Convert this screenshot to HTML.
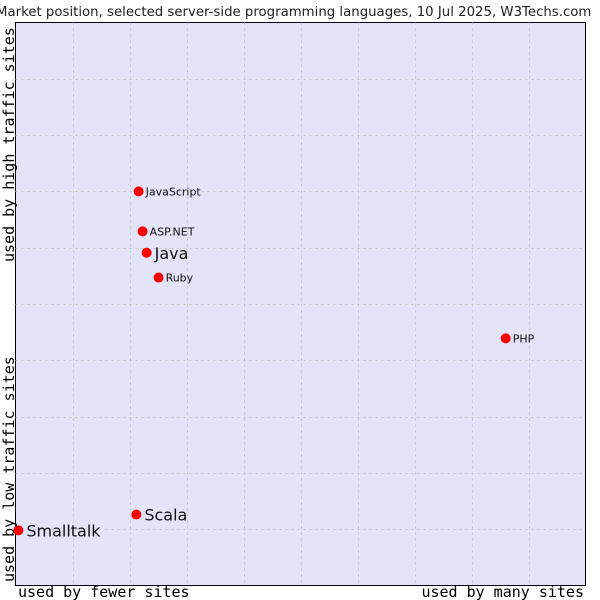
<!DOCTYPE html>
<html><head><meta charset="utf-8"><style>
body{margin:0;background:#fff;width:600px;height:600px;overflow:hidden}
svg{display:block}
</style></head><body>
<svg id="chart" width="600" height="600" xmlns="http://www.w3.org/2000/svg">
<text x="-4" y="16" font-family="DejaVu Sans, sans-serif" font-size="13.3" fill="#222">Market position, selected server-side programming languages, 10 Jul 2025, W3Techs.com</text>
<rect x="15.5" y="22.5" width="570" height="563" fill="#e4e4f8" stroke="#000" stroke-width="1"/>
<g id="grid"></g>
<g id="points"></g>
<text transform="translate(14,262) rotate(-90)" font-family="DejaVu Sans Mono, monospace" font-size="15" fill="#000">used by high traffic sites</text>
<text transform="translate(14,582) rotate(-90)" font-family="DejaVu Sans Mono, monospace" font-size="15" fill="#000">used by low traffic sites</text>
<text x="18" y="597" font-family="DejaVu Sans Mono, monospace" font-size="15" fill="#000">used by fewer sites</text>
<text x="584" y="597" text-anchor="end" font-family="DejaVu Sans Mono, monospace" font-size="15" fill="#000">used by many sites</text>
</svg>
<script>
const names = ["JavaScript","ASP.NET","Java","Ruby","PHP","Scala","Smalltalk"];
const xValues = [2.16,2.23,2.30,2.51,8.60,2.12,0.05];
const yValues = [7.00,6.29,5.91,5.47,4.39,1.26,0.98];
const bigLabel = [false,false,true,false,false,true,true];
const NS="http://www.w3.org/2000/svg";
const x0=15.5,x1=585.5,y0=585.5,y1=22.5;
function sx(v){return x0+(x1-x0)*v/10;}
function sy(v){return y0-(y0-y1)*v/10;}
const grid=document.getElementById('grid');
for(let i=1;i<10;i++){
 const lx=document.createElementNS(NS,'line');
 
 
 lx.setAttribute('x1',Math.round(sx(i))+0.5);lx.setAttribute('x2',Math.round(sx(i))+0.5);
 lx.setAttribute('y1',y1);lx.setAttribute('y2',y0);
 lx.setAttribute('stroke','#c4c4c4');lx.setAttribute('stroke-dasharray','2,4');
 grid.appendChild(lx);
 const ly=document.createElementNS(NS,'line');
 
 
 ly.setAttribute('y1',Math.round(sy(i))+0.5);ly.setAttribute('y2',Math.round(sy(i))+0.5);
 ly.setAttribute('x1',x0);ly.setAttribute('x2',x1);
 ly.setAttribute('stroke','#c4c4c4');ly.setAttribute('stroke-dasharray','2,4');
 grid.appendChild(ly);
}
const pts=document.getElementById('points');
names.forEach((n,i)=>{
 const cx=sx(xValues[i]),cy=sy(yValues[i]);
 const c=document.createElementNS(NS,'circle');
 
 
 c.setAttribute('cx',cx);c.setAttribute('cy',cy);c.setAttribute('r',5);c.setAttribute('fill','#f00');
 pts.appendChild(c);
 const t=document.createElementNS(NS,'text');
 
 
 t.setAttribute('x',cx+(bigLabel[i]?8:7));
 t.setAttribute('y',cy+(bigLabel[i]?6:4));
 t.setAttribute('font-family','DejaVu Sans, sans-serif');
 t.setAttribute('font-size',bigLabel[i]?16:11);
 t.setAttribute('fill','#111');
 t.textContent=n;
 pts.appendChild(t);
});
</script>
</body></html>
